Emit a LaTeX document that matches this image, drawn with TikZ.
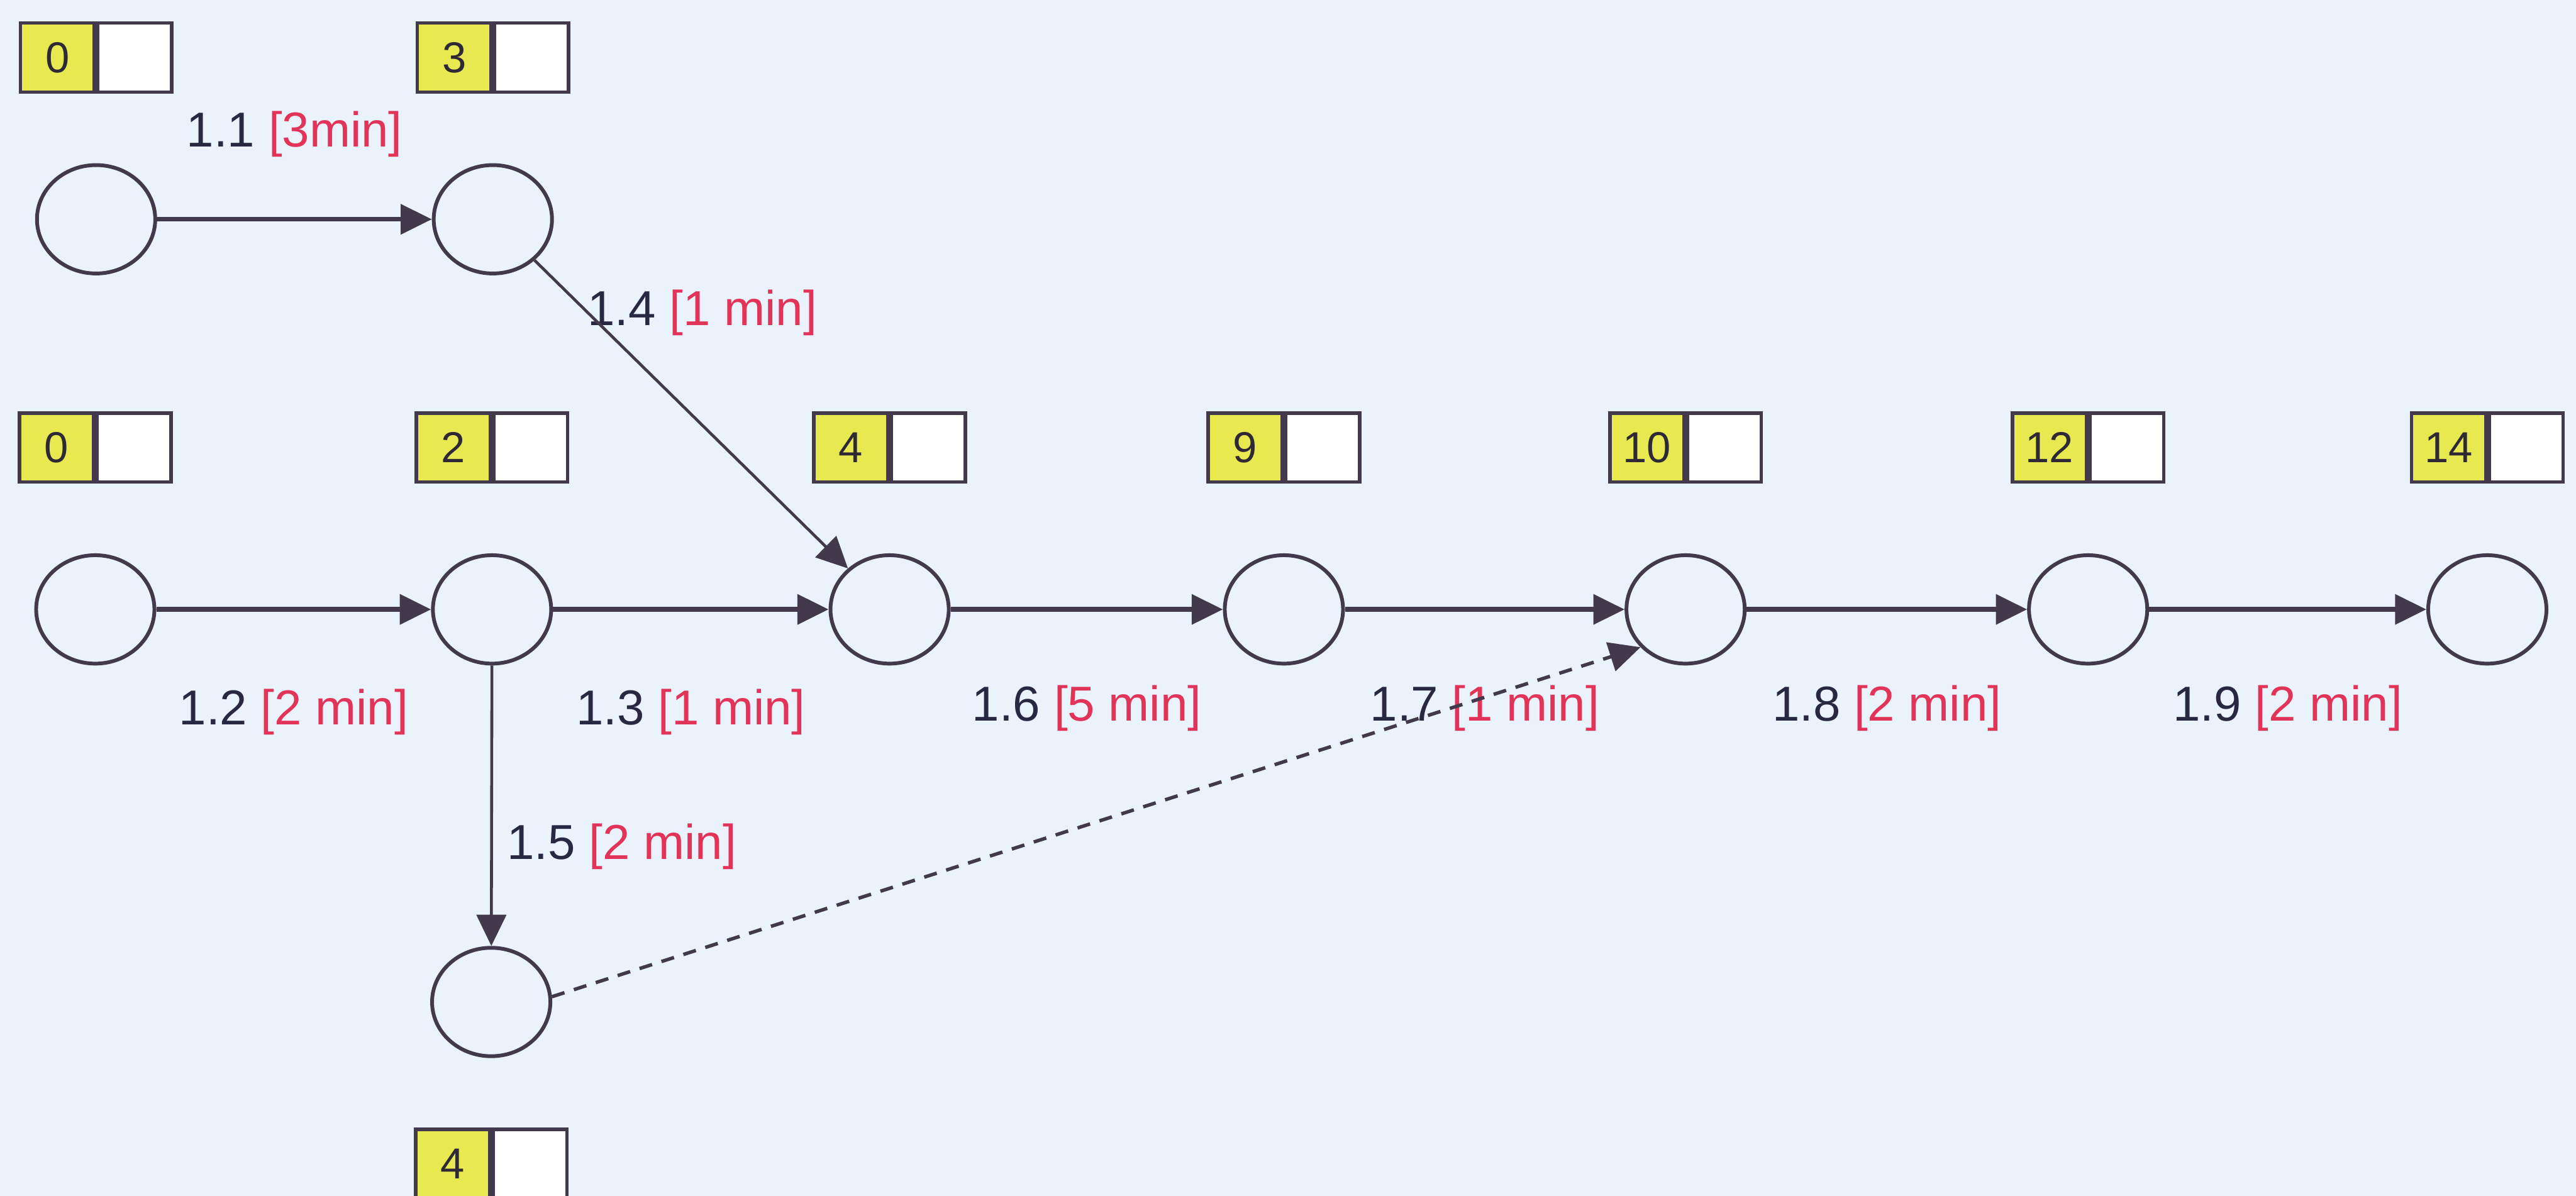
\documentclass[tikz,border=0pt]{standalone}
\usepackage{fontspec}
\setmainfont{Liberation Sans}
\usetikzlibrary{arrows.meta, positioning, shapes.geometric}

\definecolor{paper}{RGB}{234,242,251}
\definecolor{ink}{RGB}{66,58,76}
\definecolor{tasknum}{RGB}{40,40,66}
\definecolor{taskdur}{RGB}{226,52,88}
\definecolor{eyellow}{RGB}{232,232,80}

\newcommand{\tasklbl}[2]{#1 \textcolor{taskdur}{[#2]}}

\begin{document}
\begin{tikzpicture}[
    event/.style  = {ellipse, draw=ink, line width=0.65pt,
                     minimum width=0.72cm, minimum height=0.66cm, inner sep=0pt},
    early/.style  = {rectangle, draw=ink, line width=0.6pt, fill=eyellow,
                     minimum width=0.45cm, minimum height=0.42cm, inner sep=0pt,
                     anchor=east, font=\fontsize{7.5}{9}\selectfont, text=ink!70!black},
    late/.style   = {early, fill=white, anchor=west},
    lbl/.style    = {font=\fontsize{8.5}{10}\selectfont, text=tasknum, inner sep=0pt},
    arrow/.style  = {-{Triangle[length=1.9mm, width=1.8mm]}, draw=ink, line width=0.8pt},
    slim/.style   = {arrow, line width=0.5pt},
    dummy/.style  = {arrow, line width=0.6pt, dash pattern=on 0.08cm off 0.06cm}
]

% ========= canvas =========
\fill[paper] (0,0) rectangle (15.68,-7.28);
\useasboundingbox (0,0) rectangle (15.68,-7.28);

% ========= events =========
\node[event] (top0) at (0.585,-1.335) {};
\node[event] (top1) at (3.00,-1.335)  {};

\node[event] (mid0) at (0.58,-3.71)  {};
\node[event] (mid1) at (2.995,-3.71) {};
\node[event] (mid2) at (5.415,-3.71) {};
\node[event] (mid3) at (7.815,-3.71) {};
\node[event] (mid4) at (10.26,-3.71) {};
\node[event] (mid5) at (12.71,-3.71) {};
\node[event] (mid6) at (15.14,-3.71) {};

\node[event] (bot)  at (2.99,-6.10)  {};

% ========= time boxes =========
\node[early] (top0es) at ([yshift=0.985cm]top0.center) {0};
\node[late]  (top0ls) at (top0es.east) {};
\node[early] (top1es) at ([yshift=0.985cm]top1.center) {3};
\node[late]  (top1ls) at (top1es.east) {};

\node[early] (mid0es) at ([yshift=0.985cm]mid0.center) {0};
\node[late]  (mid0ls) at (mid0es.east) {};
\node[early] (mid1es) at ([yshift=0.985cm]mid1.center) {2};
\node[late]  (mid1ls) at (mid1es.east) {};
\node[early] (mid2es) at ([yshift=0.985cm]mid2.center) {4};
\node[late]  (mid2ls) at (mid2es.east) {};
\node[early] (mid3es) at ([yshift=0.985cm]mid3.center) {9};
\node[late]  (mid3ls) at (mid3es.east) {};
\node[early] (mid4es) at ([yshift=0.985cm]mid4.center) {10};
\node[late]  (mid4ls) at (mid4es.east) {};
\node[early] (mid5es) at ([yshift=0.985cm]mid5.center) {12};
\node[late]  (mid5ls) at (mid5es.east) {};
\node[early] (mid6es) at ([yshift=0.985cm]mid6.center) {14};
\node[late]  (mid6ls) at (mid6es.east) {};

\node[early] (botes)  at ([yshift=-0.985cm]bot.center) {4};
\node[late]  (botls)  at (botes.east) {};

% ========= activities =========
\draw[arrow] (top0) -- node[lbl, anchor=base, yshift=0.44cm] (l11) {\tasklbl{1.1}{3min}} (top1);
\draw[arrow] (mid0) -- node[lbl, anchor=base, yshift=-0.70cm] (l12) {\tasklbl{1.2}{2 min}} (mid1);
\draw[arrow] (mid1) -- node[lbl, anchor=base, yshift=-0.70cm] (l13) {\tasklbl{1.3}{1 min}} (mid2);
\draw[arrow] (mid2) -- node[lbl, anchor=base, yshift=-0.68cm] (l16) {\tasklbl{1.6}{5 min}} (mid3);
\draw[arrow] (mid3) -- node[lbl, anchor=base, yshift=-0.68cm] (l17) {\tasklbl{1.7}{1 min}} (mid4);
\draw[arrow] (mid4) -- node[lbl, anchor=base, yshift=-0.68cm] (l18) {\tasklbl{1.8}{2 min}} (mid5);
\draw[arrow] (mid5) -- node[lbl, anchor=base, yshift=-0.68cm] (l19) {\tasklbl{1.9}{2 min}} (mid6);

\node[lbl, anchor=base west] (l14) at (3.57,-1.98) {\tasklbl{1.4}{1 min}};
\node[lbl, anchor=base west] (l15) at (3.08,-5.23) {\tasklbl{1.5}{2 min}};
\draw[slim] (top1) -- (mid2);
\draw[slim] (mid1) -- (bot);

% dummy activity, drawn last so it runs over the 1.7 label
\draw[dummy] (bot.5) -- (mid4.220);

\end{tikzpicture}
\end{document}
